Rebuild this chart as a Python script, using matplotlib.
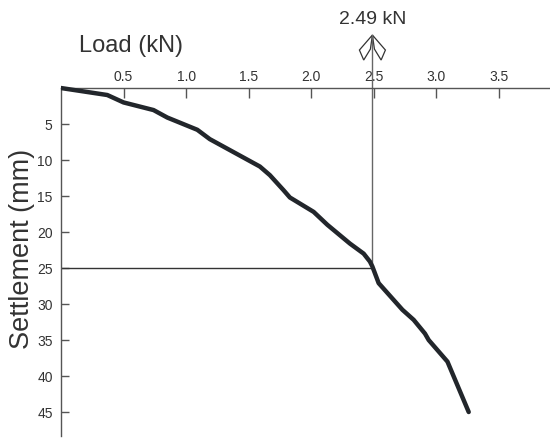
import matplotlib
matplotlib.use("Agg")
import matplotlib.pyplot as plt
from matplotlib.patches import Polygon
from matplotlib.transforms import Affine2D, ScaledTranslation

plt.rcParams['font.family'] = ['Liberation Sans', 'DejaVu Sans']

# Load-settlement data
load_kN = [0.0, 0.37, 0.50, 0.74, 0.85, 1.09, 1.19, 1.59, 1.67, 1.78, 1.83, 2.02,
           2.13, 2.31, 2.42, 2.47, 2.49, 2.54, 2.73, 2.82, 2.91, 2.94, 3.09, 3.26]
settlement_mm = [0.0, 0.97, 2.0, 3.06, 4.1, 5.8, 7.1, 10.9, 12.1, 14.2, 15.2, 17.2,
                 19.0, 21.6, 23.0, 24.1, 24.8, 27.1, 30.8, 32.2, 34.1, 35.0, 38.0, 45.0]

x_ticks = [0.5, 1.0, 1.5, 2.0, 2.5, 3.0, 3.5]
y_ticks = [5, 10, 15, 20, 25, 30, 35, 40, 45]
critical_load = 2.49
critical_settlement = 25
annotation_text = "2.49 kN"

fig = plt.figure(figsize=(5.5, 4.46), dpi=100)
ax = fig.add_axes([61 / 550, 10 / 446, 1 - 61 / 550, 406 / 446])

ax.set_xlim(0, 3.91)
ax.set_ylim(48.33, -8.06)

axis_color = '#555555'
text_color = '#333333'

for s in ['right', 'bottom']:
    ax.spines[s].set_visible(False)
ax.spines['top'].set_position(('data', 0))
ax.spines['top'].set_color(axis_color)
ax.spines['left'].set_color(axis_color)
ax.spines['left'].set_bounds(0, 48.33)
ax.spines['top'].set_linewidth(1.0)
ax.spines['left'].set_linewidth(1.0)

ax.xaxis.set_ticks_position('top')
ax.set_xticks(x_ticks)
ax.set_xticklabels([f"{v:.1f}" for v in x_ticks])
ax.set_yticks(y_ticks)
ax.set_yticklabels([str(v) for v in y_ticks])
ax.tick_params(axis='x', direction='in', length=7, width=1, color=axis_color,
               labelsize=10, labelcolor=text_color, pad=3)
ax.tick_params(axis='y', direction='in', length=6, width=1, color=axis_color,
               labelsize=10, labelcolor=text_color, pad=6)

ax.plot(load_kN, settlement_mm, color='#22262b', lw=3.2, solid_capstyle='round',
        solid_joinstyle='round', zorder=3)

# crosshair
tip_y = -7.36
ax.plot([0, critical_load], [critical_settlement, critical_settlement],
        color='#333333', lw=1.0, zorder=2)
ax.plot([critical_load, critical_load], [critical_settlement, tip_y],
        color='#666666', lw=1.0, zorder=2, clip_on=False)

# open arrow head made of two kites (pixel offsets from tip)
tr = Affine2D().scale(1, -1) + ScaledTranslation(critical_load, tip_y, ax.transData)
left_kite = [(0, 0), (-13, 15), (-8.7, 25), (-2, 14)]
right_kite = [(0, 0), (13, 15), (8.7, 25), (2, 14)]
for k in (left_kite, right_kite):
    ax.add_patch(Polygon(k, closed=True, fill=False, edgecolor='#333333', lw=0.9,
                         transform=tr, clip_on=False))

fig.text(373 / 550, 1 - 20 / 446, annotation_text, ha='center', va='center',
         fontsize=14, color=text_color)
fig.text(131 / 550, 1 - 46 / 446, "Load (kN)", ha='center', va='center',
         fontsize=17, color=text_color)
fig.text(22 / 550, 1 - 249 / 446, "Settlement (mm)", ha='center', va='center',
         rotation=90, fontsize=19.5, color=text_color)

fig.savefig("out.png", dpi=100)
